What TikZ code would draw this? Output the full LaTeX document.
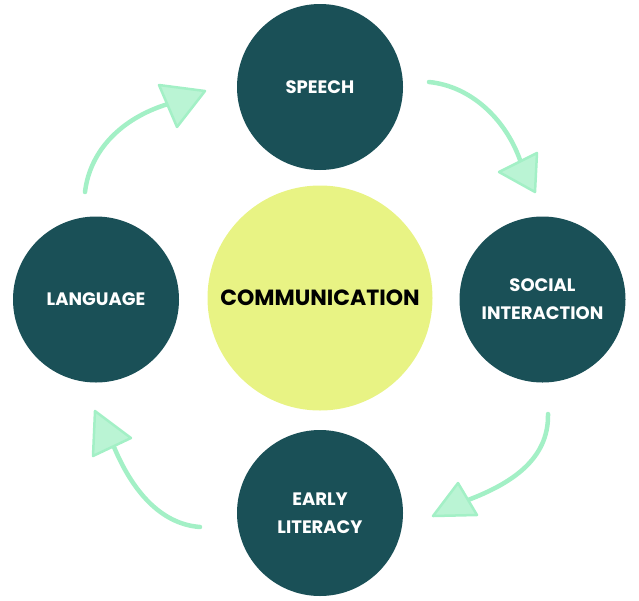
\documentclass[tikz,border=0pt]{standalone}
\usepackage{fontspec}
\setmainfont{Poppins}
\definecolor{teal}{HTML}{1A5057}
\definecolor{lime}{HTML}{E8F384}
\definecolor{mint}{HTML}{A3F0C6}
\begin{document}
\begin{tikzpicture}[x=1pt,y=-1pt,
  bubble/.style={circle,fill=teal,minimum size=166pt,inner sep=0pt,text=white,font=\bfseries\fontsize{18}{28}\selectfont,align=center},
  core/.style={circle,fill=lime,minimum size=225pt,inner sep=0pt,text=black,font=\bfseries\fontsize{22}{24}\selectfont},
  flow/.style={draw=mint,line width=4.5pt,line cap=round},
  head/.style={draw=mint,fill=mint!75!white,line width=2.5pt,line join=round}]
\useasboundingbox (0,0) rectangle (639,600);
\node[core] (comm) at (320,298) {COMMUNICATION};
\node[bubble] (speech) at (320,87) {SPEECH};
\node[bubble] (lang) at (96,299.5) {LANGUAGE};
\node[bubble] (social) at (542.5,299.5) {SOCIAL\\INTERACTION};
\node[bubble] (early) at (320,513) {EARLY\\LITERACY};
% arrow 1: language -> speech
\coordinate (a1s) at (85,192);
\coordinate (a1e) at (168,104);
\draw[flow] (a1s) .. controls (90,150) and (122,118) .. (a1e);
\draw[head] (159,85) -- (205,91) -- (177,127) -- cycle;
% arrow 2: speech -> social
\coordinate (a2s) at (429,82);
\coordinate (a2e) at (520,160);
\draw[flow] (a2s) .. controls (470,86) and (505,118) .. (a2e);
\draw[head] (499,172) -- (537,153) -- (535,192) -- cycle;
% arrow 3: social -> early
\coordinate (a3s) at (548,414);
\coordinate (a3e) at (468,500);
\draw[flow] (a3s) .. controls (549,460) and (510,484) .. (a3e);
\draw[head] (458,483) -- (477,515) -- (433,516) -- cycle;
% arrow 4: early -> language
\coordinate (a4s) at (200,527);
\coordinate (a4e) at (114,447);
\draw[flow] (a4s) .. controls (160,524) and (132,490) .. (a4e);
\draw[head] (95,411) -- (131,438) -- (93,456) -- cycle;
\end{tikzpicture}
\end{document}
